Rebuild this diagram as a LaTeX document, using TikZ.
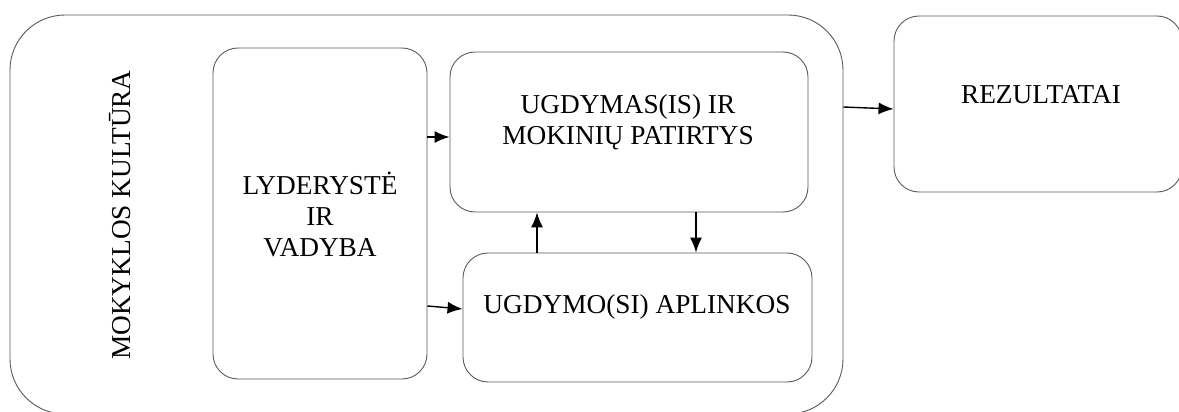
\documentclass[tikz,border=0pt]{standalone}
\usepackage{fontspec}
\setmainfont{Liberation Serif}
\usetikzlibrary{positioning, calc, arrows.meta}
\tikzstyle{Arrow} = [
%Custom arrow style:
line width=1.4pt, black,
-{Latex[length=15pt, width=12pt]}
]

\begin{document}
\begin{tikzpicture}[x=1pt, y=-1pt,
			block/.style = {rectangle, rounded corners=25pt, draw=black!65, line width=0.9pt, inner sep=0pt},
			frame/.style = {block, rounded corners=55pt},
			txt/.style = {font=\fontsize{27.3}{31}\selectfont, align=center, inner sep=0pt},
		]
		\useasboundingbox (0,0) rectangle (1179,412);
		\clip (0,0) rectangle (1179,412);

		\node[frame, minimum width=833pt, minimum height=399pt](kult) at (426.5,214.5){};
		\node[block, minimum width=214pt, minimum height=331pt](lyd) at (320,213.5){};
		\node[block, minimum width=358pt, minimum height=160pt](ugd) at (629,132){};
		\node[block, minimum width=349pt, minimum height=129pt](apl) at (637.5,317.5){};
		\node[block, minimum width=288pt, minimum height=176pt](rez) at (1038,104){};

		\node[txt, rotate=90](kulttxt) at (120,215){MOKYKLOS KULTŪRA};
		\node[txt](lydtxt) at (320,214){LYDERYSTĖ\\IR\\VADYBA};
		\node[txt](ugdtxt) at (628,122){UGDYMAS(IS) IR\\MOKINIŲ PATIRTYS};
		\node[txt](apltxt) at (637,307){UGDYMO(SI) APLINKOS};
		\node[txt](reztxt) at (1041,95){REZULTATAI};

		\draw[Arrow](lyd.east |- 0,137)--(ugd.west |- 0,137);
		\draw[Arrow](lyd.east |- 0,306)--(apl.west |- 0,309);
		\draw[Arrow](apl.north -| 537,0)--(ugd.south -| 537,0);
		\draw[Arrow](ugd.south -| 696,0)--(apl.north -| 696,0);
		\draw[Arrow](kult.east |- 0,107)--(rez.west |- 0,109);
	\end{tikzpicture}
\end{document}
